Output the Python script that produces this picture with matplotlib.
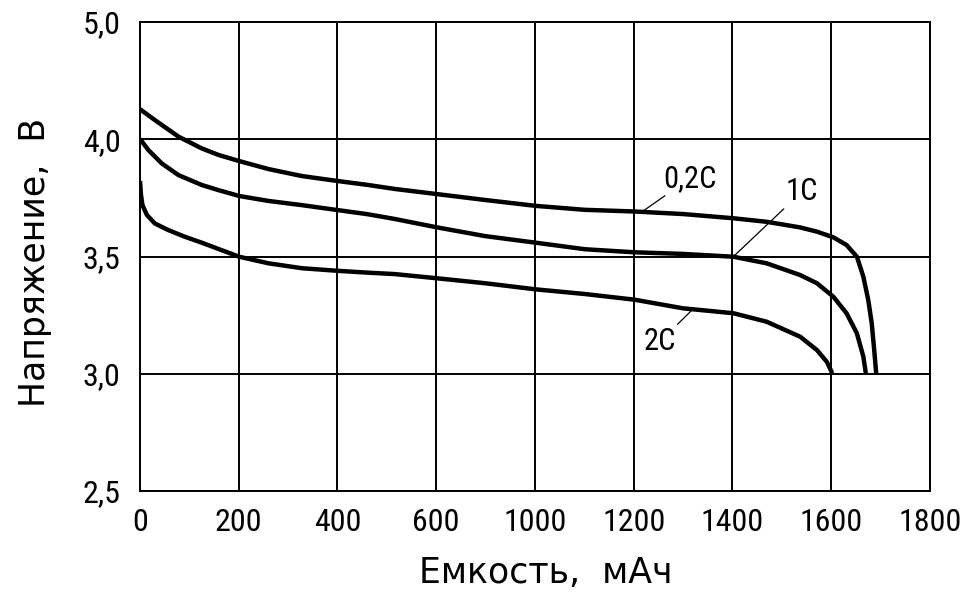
import matplotlib
matplotlib.use("Agg")
import matplotlib.pyplot as plt
from matplotlib import font_manager

# pick a narrow font if there is one (original uses a GOST drafting font)
names = {f.name for f in font_manager.fontManager.ttflist}
FONT = "DejaVu Sans"
for cand in ["Liberation Sans Narrow", "DejaVu Sans Condensed", "Roboto Condensed"]:
    if cand in names:
        FONT = cand
        break
plt.rcParams['font.family'] = [FONT, 'DejaVu Sans']
LABEL_FONT = ['DejaVu Sans']

# grid positions and the labels printed on them (the source skips 800 and 4,5)
x_ticks = [200, 400, 600, 800, 1000, 1200, 1400, 1600, 1800]
x_labels = ["0", "200", "400", "600", "1000", "1200", "1400", "1600", "1800"]
y_ticks = [2.5, 3.0, 3.5, 4.0, 4.5]
y_labels = ["2,5", "3,0", "3,5", "4,0", "5,0"]

# discharge curves
cap_02c = [200, 230, 278, 325, 359, 401, 460, 528, 600, 662, 716, 802, 899, 1001, 1101,
           1201, 1300, 1402, 1469, 1537, 1571, 1604, 1631, 1652, 1665, 1675, 1682, 1687, 1691]
v_02c = [4.128, 4.082, 4.011, 3.961, 3.933, 3.907, 3.873, 3.843, 3.822, 3.805, 3.788, 3.766, 3.741, 3.716, 3.699,
         3.692, 3.681, 3.663, 3.648, 3.624, 3.606, 3.582, 3.549, 3.499, 3.414, 3.314, 3.215, 3.101, 3.002]

cap_1c = [200, 217, 244, 278, 325, 359, 401, 460, 528, 600, 662, 716, 802, 899, 1001, 1101,
          1201, 1300, 1402, 1469, 1537, 1571, 1604, 1631, 1652, 1665, 1670]
v_1c = [4.001, 3.954, 3.897, 3.847, 3.805, 3.783, 3.758, 3.737, 3.719, 3.698, 3.680, 3.660, 3.624, 3.587, 3.559, 3.531,
        3.518, 3.511, 3.499, 3.471, 3.421, 3.386, 3.329, 3.258, 3.172, 3.073, 3.002]

cap_2c = [200, 202, 205, 214, 230, 257, 291, 325, 359, 401, 460, 528, 600, 662, 716, 802, 899, 1001, 1101,
          1201, 1300, 1402, 1469, 1537, 1571, 1591, 1602]
v_2c = [3.822, 3.762, 3.719, 3.677, 3.641, 3.613, 3.584, 3.559, 3.532, 3.499, 3.471, 3.450, 3.439, 3.431, 3.425,
        3.407, 3.386, 3.360, 3.340, 3.316, 3.279, 3.258, 3.222, 3.158, 3.101, 3.051, 3.002]

fig = plt.figure(figsize=(9.7, 5.96), dpi=100)
ax = fig.add_axes([140/970, 105/596, 790/970, 469/596])

for cap, v in [(cap_02c, v_02c), (cap_1c, v_1c), (cap_2c, v_2c)]:
    ax.plot(cap, v, color='black', lw=3.2, solid_capstyle='butt', solid_joinstyle='round')

ax.set_xlim(200, 1800)
ax.set_ylim(2.5, 4.5)
ax.set_xticks(x_ticks)
ax.set_xticklabels(x_labels)
ax.set_yticks(y_ticks)
ax.set_yticklabels(y_labels)
ax.grid(True, color='black', lw=1.4)
ax.tick_params(length=0, labelsize=23, pad=12)
ax.tick_params(axis='y', pad=14)
for s in ax.spines.values():
    s.set_linewidth(1.4)

ax.set_xlabel("Емкость,  мАч", fontsize=25, family=LABEL_FONT)
ax.xaxis.set_label_coords(0.513, -0.138)
ax.set_ylabel("Напряжение,  В", fontsize=25, family=LABEL_FONT)
ax.yaxis.set_label_coords(-0.112, 0.488)

# curve labels with leader lines
lead = dict(arrowstyle='-', color='black', lw=0.9, shrinkA=0, shrinkB=0)
ax.annotate("0,2С", xy=(1219, 3.694), xytext=(1259, 3.771), fontsize=22,
            ha='left', va='bottom', arrowprops=lead)
ax.annotate("1С", xy=(1403, 3.502), xytext=(1508, 3.715), fontsize=22,
            ha='left', va='bottom', arrowprops=lead)
ax.annotate("2С", xy=(1320, 3.276), xytext=(1286, 3.199), fontsize=22,
            ha='right', va='top', arrowprops=lead)

fig.savefig("out.png", dpi=100)
